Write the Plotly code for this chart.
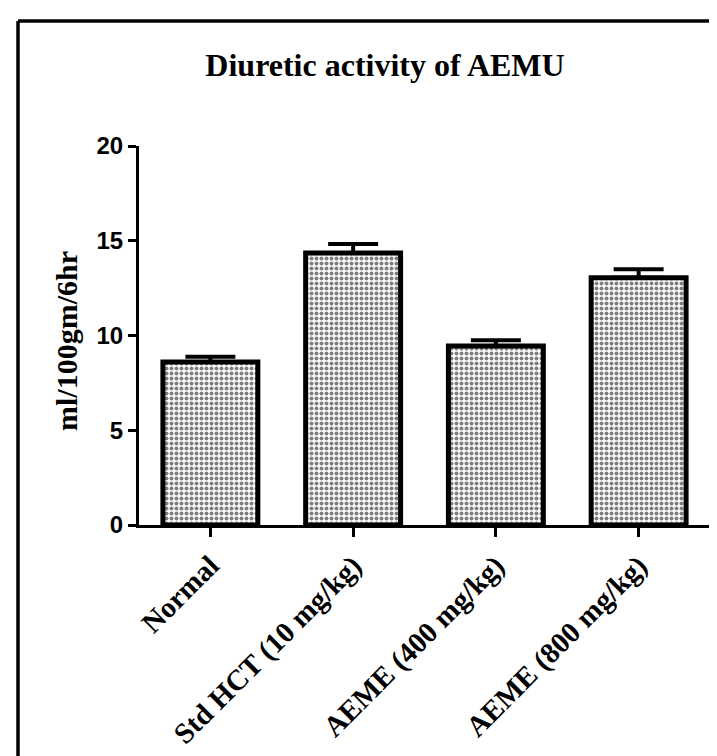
import plotly.graph_objects as go

# ---- data ----
categories = ["Normal", "Std HCT (10 mg/kg)", "AEME (400 mg/kg)", "AEME (800 mg/kg)"]
values = [8.6, 14.35, 9.45, 13.05]
errors = [0.28, 0.48, 0.30, 0.45]
y_ticks = [0, 5, 10, 15, 20]

W, H = 717, 756
ML, MR, MT, MB = 131, 15, 138, 239
PW = W - ML - MR
PH = H - MT - MB


def px_x(p):
    return (p - ML) / PW


def px_y(p):
    return (H - MB - p) / PH


fig = go.Figure()
fig.add_trace(go.Bar(
    x=categories,
    y=values,
    width=0.665,
    marker=dict(
        color="white",
        line=dict(color="black", width=5),
        pattern=dict(shape=".", fgcolor="black", bgcolor="white", size=5, solidity=0.5),
    ),
    error_y=dict(type="data", array=errors, arrayminus=[0] * len(errors), symmetric=False,
                 color="black", thickness=4, width=25),
    showlegend=False,
))

fig.update_layout(
    width=W, height=H,
    margin=dict(l=ML, r=MR, t=MT, b=MB, autoexpand=False),
    paper_bgcolor="white", plot_bgcolor="white",
    title=dict(text="Diuretic activity of AEMU", xref="paper", x=px_x(377), xanchor="center",
               yref="container", y=1 - 57 / H, yanchor="middle",
               font=dict(family="Liberation Serif", size=32, color="black", weight="bold")),
    xaxis=dict(type="category", range=[-0.5, 3.5], showline=True, linecolor="black", linewidth=3,
               ticks="outside", ticklen=9, tickwidth=3, tickcolor="black", tickangle=-45,
               tickfont=dict(family="Liberation Serif", size=29, color="black", weight="bold"),
               showgrid=False, zeroline=False),
    yaxis=dict(range=[0, 20], tickvals=y_ticks, showline=True, linecolor="black", linewidth=3,
               ticks="outside", ticklen=8, tickwidth=3, tickcolor="black",
               tickfont=dict(family="Liberation Sans", size=24, color="black", weight="bold"),
               showgrid=False, zeroline=False),
    annotations=[dict(text="ml/100gm/6hr", xref="paper", yref="paper", x=px_x(58), y=px_y(333),
                      xanchor="center", yanchor="middle", textangle=-90, showarrow=False,
                      font=dict(family="Liberation Serif", size=30, color="black", weight="bold"))],
    shapes=[
        dict(type="line", xref="paper", yref="paper", x0=px_x(10), x1=px_x(10), y0=px_y(13), y1=px_y(H + 10),
             line=dict(color="black", width=3.5)),
        dict(type="line", xref="paper", yref="paper", x0=px_x(10), x1=px_x(713), y0=px_y(13), y1=px_y(13),
             line=dict(color="black", width=3.5)),
        dict(type="line", xref="paper", yref="paper", x0=px_x(713), x1=px_x(713), y0=px_y(13), y1=px_y(H + 10),
             line=dict(color="black", width=3.5)),
    ],
)

fig.write_html("out.html")
